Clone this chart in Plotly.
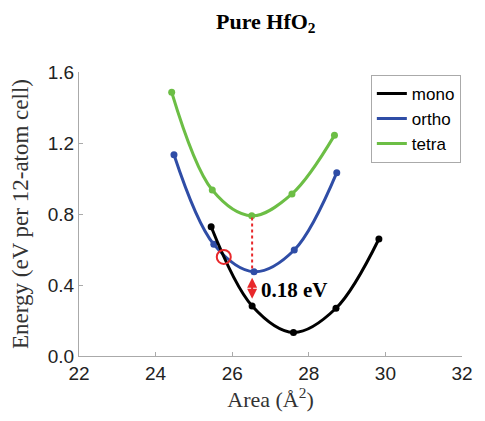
import plotly.graph_objects as go

# Data
mono_x = [25.45, 26.52, 27.60, 28.71, 29.83]
mono_y = [0.728, 0.282, 0.133, 0.269, 0.659]
ortho_x = [24.48, 25.52, 26.57, 27.62, 28.73]
ortho_y = [1.134, 0.629, 0.475, 0.597, 1.033]
tetra_x = [24.42, 25.48, 26.51, 27.56, 28.67]
tetra_y = [1.486, 0.935, 0.790, 0.913, 1.243]

series_names = ["mono", "ortho", "tetra"]
colors = {"mono": "#000000", "ortho": "#2F4DA6", "tetra": "#6CBE45"}

x_ticks = [22, 24, 26, 28, 30, 32]
y_ticks = [0.0, 0.4, 0.8, 1.2, 1.6]

gap_x = 26.52
gap_label = "0.18 eV"
circle_x, circle_y = 25.78, 0.558

fig = go.Figure()
data = {"mono": (mono_x, mono_y), "ortho": (ortho_x, ortho_y), "tetra": (tetra_x, tetra_y)}
for name in ["tetra", "ortho", "mono"]:
    xs, ys = data[name]
    fig.add_trace(go.Scatter(x=xs, y=ys, mode="lines+markers", showlegend=False,
                             line=dict(color=colors[name], width=3, shape="spline", smoothing=1.0),
                             marker=dict(color=colors[name], size=7)))
for name in series_names:
    fig.add_trace(go.Scatter(x=[None], y=[None], mode="lines", name=name,
                             line=dict(color=colors[name], width=3)))

# dotted line between tetra min and ortho min
fig.add_shape(type="line", x0=gap_x, x1=gap_x, y0=tetra_y[2] - 0.01, y1=ortho_y[2] + 0.01,
              line=dict(color="#E8282B", width=2, dash="dot"))
# double-headed arrow between ortho min and mono
fig.add_annotation(x=gap_x, y=mono_y[1] + 0.04, ax=gap_x, ay=ortho_y[2] - 0.025,
                   xref="x", yref="y", axref="x", ayref="y", text="",
                   showarrow=True, arrowhead=2, arrowside="end+start",
                   arrowsize=1, arrowwidth=2, arrowcolor="#E8282B")
fig.add_annotation(x=gap_x + 0.17, y=0.372, xref="x", yref="y", text="<b>" + gap_label + "</b>",
                   showarrow=False, xanchor="left",
                   font=dict(family="Liberation Serif", size=21, color="#000"))
# red circle at crossing
fig.add_shape(type="circle", xref="x", yref="y", xsizemode="pixel", ysizemode="pixel",
              xanchor=circle_x, yanchor=circle_y, x0=-7, x1=7, y0=-7, y1=7,
              line=dict(color="#E8282B", width=2))

axis_common = dict(showline=True, linecolor="#AAAAAA", linewidth=1, ticks="inside",
                   ticklen=4, tickcolor="#AAAAAA", showgrid=False, zeroline=False,
                   tickfont=dict(family="Liberation Sans", size=19, color="#222"))
fig.update_xaxes(range=[22, 32], tickvals=x_ticks, ticktext=[str(v) for v in x_ticks],
                 title=dict(text="Area (Å<sup>2</sup>)", standoff=4,
                            font=dict(family="Liberation Serif", size=22, color="#333")),
                 **axis_common)
fig.update_yaxes(range=[0, 1.6], tickvals=y_ticks, ticktext=[f"{v:.1f}" for v in y_ticks],
                 title=dict(text="Energy (eV per 12-atom cell)", standoff=12,
                            font=dict(family="Liberation Serif", size=23, color="#333")),
                 **axis_common)

fig.update_layout(
    width=485, height=421,
    margin=dict(l=79, r=13, t=72, b=65),
    paper_bgcolor="white", plot_bgcolor="white",
    title=dict(text="<b>Pure HfO<sub>2</sub></b>", x=0.548, xanchor="center", y=0.95, yanchor="middle",
               font=dict(family="Liberation Serif", size=22, color="#000")),
    legend=dict(x=0.762, y=0.99, xanchor="left", yanchor="top",
                bordercolor="#AAAAAA", borderwidth=1, bgcolor="white",
                font=dict(family="Liberation Sans", size=17, color="#000"),
                itemwidth=30, tracegroupgap=0),
)

fig.write_html("out.html")
